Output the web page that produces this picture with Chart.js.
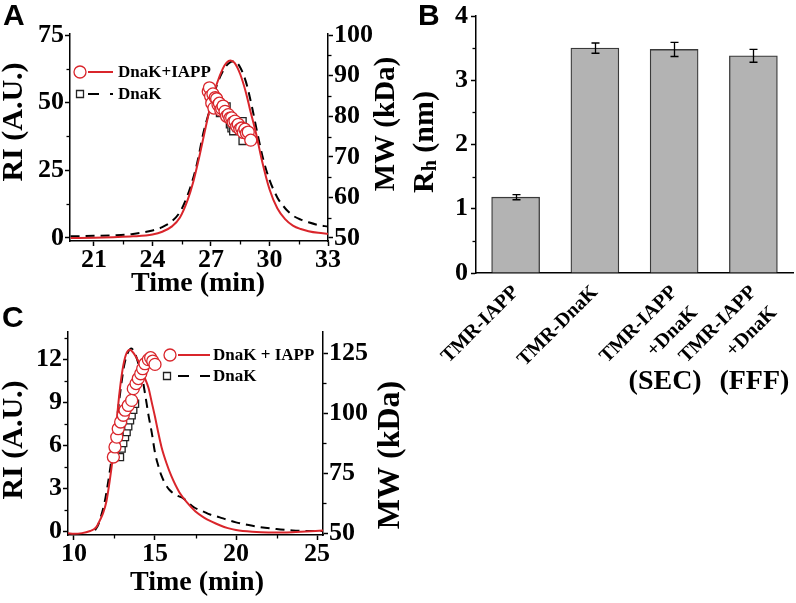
<!DOCTYPE html>
<html><head><meta charset="utf-8">
<script src="https://cdn.jsdelivr.net/npm/chart.js@4/dist/chart.umd.min.js"></script>
<style>
html,body{margin:0;padding:0;background:#fff;}
#wrap{position:relative;width:796px;height:603px;overflow:hidden;background:#fff;}
canvas{position:absolute;left:0;top:0;}
</style></head><body>
<div id="wrap">
<canvas id="cA" width="796" height="603"></canvas>
<canvas id="cB" width="796" height="603"></canvas>
<canvas id="cC" width="796" height="603"></canvas>
</div>
<script>
// ---------------- Panel A data ----------------
const aTimeRed = [19.8,21,22,23,24,24.5,25,25.4,25.8,26.1,26.4,26.7,27.0,27.3,27.6,27.8,28.0,28.2,28.5,28.8,29.0,29.3,29.6,30.0,30.4,30.8,31.2,31.6,32.0,32.5,33.0];
const aRIRed   = [0.0,0.1,0.3,0.6,1.3,2.3,4.3,7.5,14,21,30,40,49.5,57,62.5,64.8,65.6,64.8,60.5,53.5,47.5,39,29,18,11,7,4.6,3.3,2.5,1.9,1.6];
const aTimeDash = [19.8,21,22,23,24,24.5,25.0,25.4,25.7,26.0,26.3,26.6,27.0,27.3,27.6,27.9,28.2,28.5,28.8,29.1,29.4,29.7,30.0,30.4,30.8,31.2,31.6,32.0,32.5,33.0];
const aRIDash   = [0.6,0.8,1.0,1.5,2.8,4.0,6.2,9.5,14,20,28,38.5,49,56.5,61.5,64.5,65.3,63,57.5,48.5,38,28.5,21.5,15,11,8.3,6.8,5.8,4.8,4.2];
const aCircleTime = [26.86,26.92,26.98,27.04,27.1,27.15,27.22,27.29,27.36,27.43,27.5,27.55,27.62,27.72,27.8,27.89,27.97,28.06,28.14,28.23,28.32,28.4,28.48,28.57,28.66,28.74,28.82,28.91,29.04];
const aCircleMW   = [86.1,87.0,84.9,83.2,85.5,82.0,84.6,84.3,82.8,83.2,81.5,81.9,82.5,81.2,80.0,80.4,79.5,79.6,78.5,78.8,77.5,78.0,76.8,77.1,76.0,76.8,75.8,76.1,74.1];
const aSquareTime = [27.2,27.29,27.46,27.62,27.8,27.97,28.05,28.14,28.32,28.45,28.62,28.62];
const aSquareMW   = [82.0,81.6,80.8,81.5,82.4,78.0,77.0,76.3,77.1,78.5,78.8,73.9];
const aTicksX = [21,24,27,30,33];
const aMinorX = [22.5,25.5,28.5,31.5];
const aTicksRI = [0,25,50,75];
const aMinorRI = [12.5,37.5,62.5];
const aTicksMW = [50,60,70,80,90,100];
const aMinorMW = [55,65,75,85,95];

// ---------------- Panel B data ----------------
const bCategories = [['TMR-IAPP'],['TMR-DnaK'],['TMR-IAPP','+DnaK'],['TMR-IAPP','+DnaK']];
const bRh  = [1.18,3.50,3.48,3.38];
const bErr = [0.04,0.08,0.11,0.10];
const bTicksY = [0,1,2,3,4];
const bMinorY = [0.5,1.5,2.5,3.5];
const bMethods = ['(SEC)','(FFF)'];

// ---------------- Panel C data ----------------
const cTimeRed = [9.63,10.0,10.5,11.0,11.2,11.4,11.6,11.8,12.0,12.2,12.4,12.6,12.8,13.0,13.2,13.45,13.7,14.0,14.3,14.6,14.8,15.0,15.2,15.4,15.7,16.0,16.5,17.0,17.5,18.0,18.5,19.0,19.5,20.0,21.0,22.0,23.0,24.0,25.37];
const cRIRed   = [-0.1,-0.15,-0.1,0.05,0.15,0.35,0.8,1.3,2.1,3.5,5.2,7.3,9.6,11.3,12.3,12.67,12.4,11.8,10.9,10.0,9.0,8.0,6.9,5.9,4.8,3.9,2.75,2.0,1.4,1.0,0.7,0.45,0.25,0.12,0.0,-0.05,-0.05,0.0,0.08];
const cTimeDash = [11.3,11.5,11.7,11.9,12.1,12.3,12.5,12.7,12.9,13.1,13.3,13.55,13.8,14.0,14.2,14.4,14.6,14.8,15.0,15.2,15.4,15.65,15.9,16.3,16.75,17.4,18.0,18.4,19.0,19.4,20.0,20.7,21.5,22.5,23.5,24.5,25.37];
const cRIDash   = [0.1,0.5,1.2,2.1,3.4,4.9,6.5,8.3,10.1,11.6,12.4,12.75,12.3,11.6,10.8,9.5,8.1,6.9,5.5,4.6,3.9,3.3,2.9,2.55,2.32,1.7,1.4,1.2,1.0,0.85,0.65,0.48,0.32,0.18,0.09,0.05,0.04];
const cCircleTime = [12.43,12.53,12.64,12.73,12.88,13.04,13.15,13.35,13.56,13.66,13.83,13.97,14.12,14.24,14.38,14.59,14.73,14.86,15.0];
const cCircleMW   = [81.8,86.0,90.1,93.6,96.4,99.2,101.3,103.3,105.4,110.3,112.4,114.5,116.5,118.6,120.7,122.4,123.2,121.8,120.4];
const cSquareTime = [12.84,12.94,13.04,13.15,13.25,13.35,13.46,13.56,13.66,13.77];
const cSquareMW   = [81.8,85.3,87.6,90.1,92.2,94.6,97.1,99.2,101.5,104.0];
const cTicksX = [10,15,20,25];
const cMinorX = [12.5,17.5,22.5];
const cTicksRI = [0,3,6,9,12];
const cMinorRI = [1.5,4.5,7.5,10.5,13.5];
const cTicksMW = [50,75,100,125];
const cMinorMW = [62.5,87.5,112.5];

// ---------------- styling ----------------
const RED = '#d9252b';
const SERIF = "'Liberation Serif','Times New Roman',serif";
const SANS = "'Liberation Sans',Arial,sans-serif";

function zip(xs, ys){ return xs.map((x,i)=>({x:x, y:ys[i]})); }

function linAxis(pos, min, max, ticks, fitSize){
  return {
    type:'linear', position:pos, min:min, max:max,
    afterBuildTicks: s => { s.ticks = ticks.map(v=>({value:v})); },
    afterFit: s => { if (pos==='bottom') s.height = fitSize; else s.width = fitSize; s.paddingLeft=0; s.paddingRight=0; },
    grid:{display:true, drawOnChartArea:false, drawTicks:true, tickLength:5, tickWidth:1.5, tickColor:'#000'},
    border:{display:true, color:'#000', width:1.5},
    ticks:{color:'#000', font:{family:SERIF, size:26, weight:'bold', lineHeight:1}, padding:1, autoSkip:false, maxRotation:0, minRotation:0}
  };
}

const minorTicks = {
  id:'minorTicks',
  afterDraw(chart, args, o){
    const ctx = chart.ctx; ctx.save(); ctx.strokeStyle='#000'; ctx.lineWidth=1.3;
    (o.list||[]).forEach(m=>{
      const s = chart.scales[m.id]; const len = 3.5;
      m.values.forEach(v=>{
        const p = Math.round(s.getPixelForValue(v))+0.5;
        ctx.beginPath();
        if (s.isHorizontal()){ ctx.moveTo(p, s.top); ctx.lineTo(p, s.top+len); }
        else if (s.position==='left'){ ctx.moveTo(s.right, p); ctx.lineTo(s.right-len, p); }
        else { ctx.moveTo(s.left, p); ctx.lineTo(s.left+len, p); }
        ctx.stroke();
      });
    });
    ctx.restore();
  }
};

const decor = {
  id:'decor',
  afterDraw(chart, args, o){
    const ctx = chart.ctx;
    (o.texts||[]).forEach(t=>{
      ctx.save(); ctx.translate(t.x, t.y);
      if (t.rot) ctx.rotate(t.rot*Math.PI/180);
      ctx.fillStyle='#000'; ctx.textBaseline = t.baseline||'middle';
      if (t.parts){
        let total=0;
        t.parts.forEach(p=>{ ctx.font=p.font; total+=ctx.measureText(p.text).width; });
        let cx=-total/2; ctx.textAlign='left';
        t.parts.forEach(p=>{ ctx.font=p.font; ctx.fillText(p.text, cx, p.dy||0); cx+=ctx.measureText(p.text).width; });
      } else {
        ctx.font=t.font; ctx.textAlign=t.align||'center'; ctx.fillText(t.text,0,0);
      }
      ctx.restore();
    });
    (o.legend||[]).forEach(l=>{
      ctx.save();
      ctx.strokeStyle=l.lineColor; ctx.lineWidth=2; ctx.setLineDash(l.dash||[]);
      ctx.beginPath(); ctx.moveTo(l.x1,l.y); ctx.lineTo(l.x2,l.y); ctx.stroke();
      ctx.setLineDash([]); ctx.lineWidth=1.3; ctx.fillStyle='#fff'; ctx.strokeStyle=l.markColor;
      ctx.beginPath();
      if (l.marker==='circle') ctx.arc(l.mx,l.y,6,0,Math.PI*2); else ctx.rect(l.mx-3.5,l.y-3.5,7,7);
      ctx.fill(); ctx.stroke();
      ctx.fillStyle='#000'; ctx.font='bold 17px '+SERIF; ctx.textAlign='left'; ctx.textBaseline='middle';
      ctx.fillText(l.text, l.tx, l.y+1);
      ctx.restore();
    });
  }
};

const errorBars = {
  id:'errorBars',
  afterDatasetsDraw(chart){
    const ctx=chart.ctx, ys=chart.scales.y; const meta=chart.getDatasetMeta(0);
    ctx.save(); ctx.strokeStyle='#000'; ctx.lineWidth=1.3;
    meta.data.forEach((bar,i)=>{
      const v=bRh[i], e=bErr[i];
      const t=ys.getPixelForValue(v+e), b=ys.getPixelForValue(v-e), x=Math.round(bar.x)+0.5;
      ctx.beginPath(); ctx.moveTo(x,t); ctx.lineTo(x,b);
      ctx.moveTo(x-4,t); ctx.lineTo(x+4,t); ctx.moveTo(x-4,b); ctx.lineTo(x+4,b); ctx.stroke();
    });
    ctx.restore();
  }
};

function lineDs(xs, ys, color, dash, yID, order){
  return {type:'line', data:zip(xs,ys), borderColor:color, borderWidth:2, borderDash:dash, pointRadius:0,
          cubicInterpolationMode:'monotone', fill:false, yAxisID:yID, order:order};
}
function markDs(xs, ys, color, style, r, yID, order){
  return {type:'line', data:zip(xs,ys), showLine:false, pointStyle:style, pointRadius:r, pointBorderColor:color,
          pointBackgroundColor:'#fff', pointBorderWidth:1.3, yAxisID:yID, order:order};
}
const base = {responsive:false, animation:false, devicePixelRatio:1, events:[],
  plugins:{legend:{display:false}, tooltip:{enabled:false}}};

// ---------------- Chart A ----------------
new Chart(document.getElementById('cA'), {
  type:'line',
  data:{datasets:[
    lineDs(aTimeDash, aRIDash, '#000', [9,6], 'y', 4),
    lineDs(aTimeRed, aRIRed, RED, [], 'y', 3),
    markDs(aSquareTime, aSquareMW, '#222', 'rect', 5, 'y1', 2),
    markDs(aCircleTime, aCircleMW, RED, 'circle', 6, 'y1', 1)
  ]},
  options:Object.assign({}, base, {
    layout:{padding:{left:10, right:408, top:34, bottom:322}},
    scales:{
      x: linAxis('bottom', 19.77, 33, aTicksX, 40),
      y: linAxis('left', -1.11, 75.37, aTicksRI, 60),
      y1: linAxis('right', 49.26, 100.25, aTicksMW, 60)
    },
    plugins:Object.assign({}, base.plugins, {
      minorTicks:{list:[{id:'x',values:aMinorX},{id:'y',values:aMinorRI},{id:'y1',values:aMinorMW}]},
      decor:{
        texts:[
          {text:'A', x:3, y:25, font:'bold 30px '+SANS, align:'left', baseline:'alphabetic'},
          {text:'RI (A.U.)', x:14, y:122, rot:-90, font:'bold 30px '+SERIF},
          {text:'MW (kDa)', x:387, y:124, rot:-90, font:'bold 29px '+SERIF},
          {text:'Time (min)', x:198, y:284, font:'bold 28px '+SERIF}
        ],
        legend:[
          {marker:'circle', markColor:RED, lineColor:RED, dash:[], x1:88, x2:113, mx:80, y:72, text:'DnaK+IAPP', tx:118},
          {marker:'rect', markColor:'#222', lineColor:'#000', dash:[11,11], x1:88, x2:113, mx:80, y:94, text:'DnaK', tx:118}
        ]
      }
    })
  }),
  plugins:[minorTicks, decor]
});

// ---------------- Chart B ----------------
const bY = linAxis('left', 0, 4, bTicksY, 60);
bY.ticks.padding = 3;
new Chart(document.getElementById('cB'), {
  type:'bar',
  data:{labels:bCategories, datasets:[{data:bRh, backgroundColor:'#b3b3b3', borderColor:'#3a3a3a', borderWidth:1.3, barThickness:48}]},
  options:Object.assign({}, base, {
    layout:{padding:{left:416, right:3, top:16, bottom:230}},
    scales:{
      x:{type:'category', position:'bottom', offset:true,
         afterFit: s => { s.height = 100; s.paddingLeft=0; s.paddingRight=0; },
         grid:{display:false},
         border:{display:true, color:'#000', width:1.5},
         ticks:{color:'#000', font:{family:SERIF, size:20, weight:'bold', lineHeight:1.45}, padding:-2, autoSkip:false, minRotation:45, maxRotation:45}},
      y: bY
    },
    plugins:Object.assign({}, base.plugins, {
      minorTicks:{list:[{id:'y',values:bMinorY}]},
      decor:{
        texts:[
          {text:'B', x:418, y:25, font:'bold 30px '+SANS, align:'left', baseline:'alphabetic'},
          {x:433, y:142, rot:-90, baseline:'alphabetic', parts:[
            {text:'R', font:'bold 30px '+SERIF},
            {text:'h', font:'bold 20px '+SERIF, dy:3},
            {text:' (nm)', font:'bold 30px '+SERIF}
          ]}
        ]
      }
    })
  }),
  plugins:[minorTicks, decor, errorBars, {
    id:'methods',
    afterDraw(chart){
      const ctx=chart.ctx, xs=chart.scales.x, shift=[-9,1];
      ctx.save(); ctx.fillStyle='#000'; ctx.font='bold 28px '+SERIF; ctx.textAlign='center'; ctx.textBaseline='middle';
      bMethods.forEach((m,i)=>{ ctx.fillText(m, xs.getPixelForValue(i+2)+shift[i], 382); });
      ctx.restore();
    }
  }]
});

// ---------------- Chart C ----------------
new Chart(document.getElementById('cC'), {
  type:'line',
  data:{datasets:[
    lineDs(cTimeDash, cRIDash, '#000', [9,6], 'y', 4),
    lineDs(cTimeRed, cRIRed, RED, [], 'y', 3),
    markDs(cSquareTime, cSquareMW, '#222', 'rect', 5, 'y1', 2),
    markDs(cCircleTime, cCircleMW, RED, 'circle', 6, 'y1', 1)
  ]},
  options:Object.assign({}, base, {
    layout:{padding:{left:8, right:413, top:332, bottom:28}},
    scales:{
      x: linAxis('bottom', 9.63, 25.37, cTicksX, 40),
      y: linAxis('left', -0.23, 13.9, cTicksRI, 60),
      y1: linAxis('right', 49.3, 133.9, cTicksMW, 60)
    },
    plugins:Object.assign({}, base.plugins, {
      minorTicks:{list:[{id:'x',values:cMinorX},{id:'y',values:cMinorRI},{id:'y1',values:cMinorMW}]},
      decor:{
        texts:[
          {text:'C', x:2, y:327, font:'bold 30px '+SANS, align:'left', baseline:'alphabetic'},
          {text:'RI (A.U.)', x:14, y:440, rot:-90, font:'bold 30px '+SERIF},
          {text:'MW (kDa)', x:391, y:455, rot:-90, font:'bold 32px '+SERIF},
          {text:'Time (min)', x:197, y:583, font:'bold 28px '+SERIF}
        ],
        legend:[
          {marker:'circle', markColor:RED, lineColor:RED, dash:[], x1:178, x2:210, mx:170, y:355, text:'DnaK + IAPP', tx:213},
          {marker:'rect', markColor:'#222', lineColor:'#000', dash:[11,11], x1:178, x2:210, mx:167, y:376, text:'DnaK', tx:213}
        ]
      }
    })
  }),
  plugins:[minorTicks, decor]
});
</script>
</body></html>
